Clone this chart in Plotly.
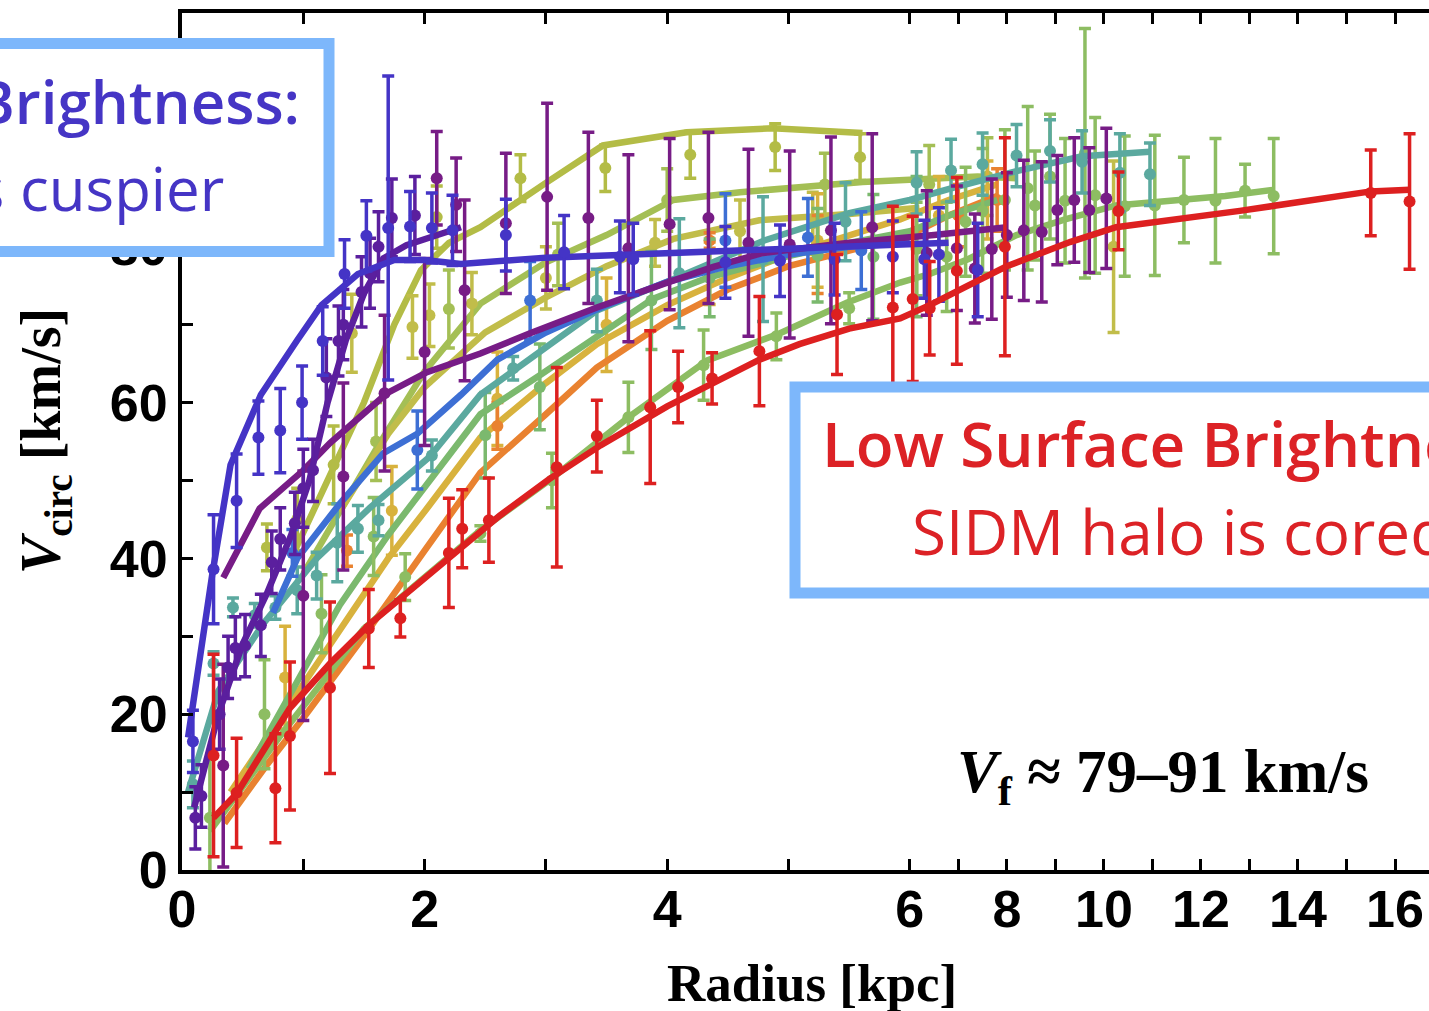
import plotly.graph_objects as go

# ---------------- data (radius in kpc, V_circ in km/s) ----------------
# blue-violet galaxy
BV_line_r = [0.05, 0.25, 0.4, 0.65, 0.95, 1.15, 1.45, 1.75, 2.0, 2.3, 3.0, 4.0, 5.0, 6.0, 6.8]
BV_line_v = [17, 38, 52, 61, 68, 72.5, 76.5, 78.3, 78.3, 77.8, 78.6, 79.2, 79.8, 80.3, 80.5]
BV_pts_r = [0.09, 0.26, 0.45, 0.63, 0.81, 0.99, 1.16, 1.34, 1.52, 1.70, 1.88, 2.06, 2.23, 2.67, 3.15, 3.61, 3.72, 4.48, 4.93, 5.38, 5.86, 6.3, 6.6, 7.4]
BV_pts_v = [16.5, 38.6, 47.4, 55.5, 56.4, 60.0, 67.9, 76.5, 81.4, 82.4, 82.6, 82.4, 82.1, 81.5, 79.3, 78.7, 78.4, 78.0, 78.2, 78.4, 78.7, 78.4, 79, 77]
BV_pts_e = [4, 7, 6, 4.7, 5.4, 4.7, 4.4, 4.4, 4.5, 19.5, 4.5, 4.5, 4.5, 4.6, 4.7, 4.6, 4.6, 4.6, 4.6, 4.6, 4.6, 5, 6, 6]

# dark violet galaxy
VI_line_r = [0.1, 0.3, 0.5, 0.7, 0.9, 1.05, 1.2, 1.35, 1.5, 1.66, 1.85, 2.1, 2.3]
VI_line_v = [8, 20, 29, 35.5, 43, 50, 60, 68, 74, 78.5, 80.2, 81.5, 82.5]
VI_pts_r = [0.11, 0.16, 0.31, 0.38, 0.44, 0.52, 0.65, 0.74, 0.81, 0.93, 1.0, 1.08, 1.19, 1.29, 1.33, 1.48, 1.55, 1.62, 1.73, 1.92]
VI_pts_v = [6.7, 9.5, 20, 26, 28.5, 28.8, 31.4, 39.5, 42.5, 44.5, 49, 51.3, 63.2, 67.9, 70, 74.2, 76.6, 80, 83.7, 84]
VI_pts_e = [4, 4, 4.5, 4, 4, 4, 4, 4, 4, 4, 5, 4, 5, 4.5, 4.5, 4.5, 4.5, 4.5, 5, 5]

# purple galaxy
PU_line_r = [0.34, 0.64, 0.86, 1.0, 1.22, 1.69, 2.02, 2.46, 2.87, 3.42, 4.0, 4.38, 4.79, 5.5, 6.5, 8.0]
PU_line_v = [37.5, 46.4, 49.4, 51.3, 54.8, 61.2, 63.9, 66.3, 68.9, 72.2, 75.4, 77.4, 79.2, 80.5, 81.5, 82.5]
PU_pts_r = [0.34, 1.0, 1.33, 1.67, 2.0, 2.10, 2.26, 2.33, 2.67, 3.01, 3.35, 3.68, 4.02, 4.34, 4.67, 5.01, 5.35, 5.69, 6.35, 6.97, 7.34, 7.69, 8.0, 8.35, 8.72, 9.04, 9.39, 9.7, 10.05]
PU_pts_v = [13.4, 35.2, 50.5, 61.2, 66.5, 88.8, 85.4, 74.4, 83, 86.4, 83.7, 79.8, 82.9, 83.7, 80.5, 80.3, 82.1, 82.5, 79.2, 79.8, 77.2, 79.7, 81.5, 82.1, 81.9, 84.7, 86, 84.7, 86.2]
PU_pts_e = [13, 16, 12, 10, 12, 6, 6, 11.6, 9, 12, 11, 12, 11, 11, 12, 12, 12, 12, 8, 8, 7, 9, 8, 9, 9, 7, 8, 8, 9]

# blue galaxy
BL_line_r = [0.75, 0.95, 1.3, 1.66, 1.94, 2.3, 2.6, 3.0, 3.5, 4.0, 4.5, 5.0, 5.5, 6.0]
BL_line_v = [33, 40, 47, 53.5, 56, 61, 65.5, 69, 72.5, 75.5, 77.5, 79, 80, 80.5]
BL_pts_r = [0.91, 1.94, 2.87, 4.48, 5.16, 5.6]
BL_pts_v = [40.7, 53.9, 73.1, 80.8, 81.2, 79.5]
BL_pts_e = [3, 5, 5, 6, 5, 5]

# teal galaxy
TE_line_r = [0.05, 0.3, 0.67, 1.11, 1.55, 2.04, 2.46, 3.0, 3.42, 4.0, 4.8, 5.5, 6.0, 6.85, 8.2, 9.55, 10.95]
TE_line_v = [10, 23, 31.6, 40, 46.5, 53, 61, 67, 71.8, 75.5, 80.8, 84.3, 86, 87.5, 89.7, 91.6, 92.2]
TE_pts_r = [0.09, 0.26, 0.42, 0.60, 0.77, 0.95, 1.11, 1.28, 1.45, 1.62, 2.06, 2.73, 3.42, 4.1, 4.79, 5.47, 6.14, 6.85, 7.5, 8.2, 8.89, 9.55, 10.33, 10.95]
TE_pts_v = [11, 26.5, 33.7, 32.7, 33.7, 35.9, 37.8, 42, 43.8, 44.9, 53.2, 64.4, 73.1, 76.6, 78.4, 83.2, 88.2, 89.8, 90.6, 91.7, 92.3, 90.9, 89.5, 89.3]
TE_pts_e = [3, 1.5, 1.2, 1.5, 1.5, 3, 3, 5, 3, 2, 2, 1.5, 4, 7, 8, 5, 4, 4, 4, 4, 4, 4, 5, 4]

# light green galaxy (extends to 13.5 kpc)
LG_line_r = [0.23, 0.8, 1.5, 2.46, 3.06, 3.68, 4.33, 4.93, 5.48, 5.92, 6.41, 7.2, 8.2, 9.2, 10.25, 11.5, 12.5, 13.5]
LG_line_v = [5, 17, 31, 43.6, 50.4, 58.1, 65.4, 68.9, 72.8, 75.4, 76.5, 78.4, 81.5, 83.5, 85.3, 86, 86.5, 87.3]
LG_pts_r = [0.23, 0.68, 1.15, 1.58, 1.84, 2.46, 3.05, 3.68, 4.3, 4.9, 5.5, 6.14, 6.76, 7.15, 7.5, 7.96, 8.43, 8.58, 8.89, 9.2, 9.61, 9.82, 10.43, 11.05, 11.65, 12.3, 12.91, 13.5]
LG_pts_v = [6.7, 20, 32.9, 42.8, 37.6, 43.2, 50, 58.1, 64.8, 68.5, 72.1, 79.7, 78.7, 83.2, 84.6, 86, 87.5, 85.3, 89, 85.9, 92, 86.6, 85.2, 85.3, 86, 85.9, 87.2, 86.5]
LG_pts_e = [7.5, 7, 5, 5, 3, 1, 3.5, 4.5, 4.5, 3, 2, 6, 7, 7, 8, 9, 10.5, 7, 8, 8, 16, 10, 9, 9, 5.5, 8, 3.4, 7.4]

# green galaxy
UG_line_r = [0.55, 0.9, 1.3, 1.7, 2.1, 2.46, 2.95, 3.42, 3.88, 4.33, 5.0, 5.5, 6.0, 6.8, 7.8]
UG_line_v = [13, 23, 34, 43, 51, 58.5, 63.5, 68.5, 73.3, 76, 78.8, 80.5, 82, 84, 86]
UG_pts_r = [2.5, 2.95, 3.87, 4.35, 5.24, 5.7, 6.14]
UG_pts_v = [55.8, 62, 73.1, 76, 78.9, 78.7, 80]
UG_pts_e = [5.5, 5.5, 6.3, 5, 6, 8, 9]

# olive galaxy (highest curve)
YG1_line_r = [0.9, 1.2, 1.5, 1.75, 1.97, 2.2, 2.46, 3.0, 3.47, 4.16, 4.87, 5.61]
YG1_line_v = [40, 50, 60, 70, 77, 80.5, 82.5, 88.2, 93, 94.7, 95.2, 94.6]
YG1_pts_r = [0.7, 0.95, 1.25, 2.1, 2.79, 3.49, 4.19, 4.89, 5.59]
YG1_pts_v = [41.4, 45, 52, 83.8, 88.8, 90.1, 91.8, 92.8, 91.5]
YG1_pts_e = [3, 4, 5, 4, 3, 3, 3, 3, 3]

# yellow-green galaxy
YG2_line_r = [1.0, 1.3, 1.6, 2.0, 2.46, 3.0, 3.5, 4.05, 4.6, 5.61, 6.5, 7.4, 8.2]
YG2_line_v = [38, 46, 54, 64, 72.7, 78, 81.5, 86, 87, 88.3, 88.7, 89, 88.8]
YG2_pts_r = [1.6, 2.2, 3.1, 4.0, 5.3, 6.4, 7.6]
YG2_pts_v = [55, 72, 79, 86, 88, 88, 89]
YG2_pts_e = [5, 5, 4, 4, 4, 5, 5]

# light olive galaxy
YG3_line_r = [1.3, 1.7, 2.0, 2.5, 3.0, 3.5, 4.05, 4.76, 5.5, 6.2]
YG3_line_v = [46, 56, 62, 69, 73.5, 77.5, 81, 83.4, 84.2, 85]
YG3_pts_r = [1.4, 1.9, 2.04, 2.39, 3.0, 3.9, 4.6, 5.2, 10.2]
YG3_pts_v = [68.9, 69.7, 71.2, 72.7, 76, 80.5, 82, 83, 80]
YG3_pts_e = [5, 4, 4, 4, 4, 3, 4, 4, 11]

# gold galaxy
GO_line_r = [0.4, 0.7, 1.0, 1.3, 1.7, 2.0, 2.46, 3.0, 3.42, 4.0, 4.5, 5.0, 5.92, 6.8, 7.8]
GO_line_v = [10, 17, 24, 31, 40, 46, 55.5, 62.5, 67.5, 72.5, 76, 79, 83.5, 86, 88]
GO_pts_r = [0.85, 1.73, 2.6, 3.5, 4.35, 5.24, 6.6, 7.6]
GO_pts_v = [24.7, 46.1, 60.5, 70, 76.6, 80.8, 84, 86]
GO_pts_e = [6.6, 5.7, 6, 6, 4, 6, 5, 5]

# orange galaxy
OR_line_r = [0.35, 0.7, 1.0, 1.5, 2.0, 2.46, 3.0, 3.42, 4.0, 4.5, 5.0, 5.5, 6.0, 6.8, 7.8]
OR_line_v = [6, 13.5, 19.5, 30, 41, 51, 58.5, 64.5, 70.5, 74.5, 77.5, 79.5, 81.5, 84, 86.5]
OR_pts_r = [1.36, 2.6, 4.35, 5.24, 7.0, 7.8]
OR_pts_v = [41, 57, 80.8, 79, 84, 86]
OR_pts_e = [2, 3, 1, 5, 4, 4]

# red galaxy
RE_line_r = [0.26, 0.45, 0.89, 1.22, 1.55, 2.21, 2.62, 3.03, 3.45, 4.0, 4.37, 4.76, 5.09, 5.5, 5.92, 6.41, 7.2, 8.0, 9.3, 10.25, 12.8, 15.5, 16.3]
RE_line_v = [6.7, 9.8, 20.8, 26.5, 31.6, 40.1, 45.5, 50.2, 54.5, 59.5, 62.5, 65.5, 67.5, 69.5, 70.8, 72.5, 75, 77.5, 80.6, 82.5, 84.6, 87.1, 87.3]
RE_pts_r = [0.26, 0.45, 0.77, 0.89, 1.22, 1.54, 1.8, 2.2, 2.31, 2.53, 3.09, 3.42, 3.86, 4.09, 4.37, 4.76, 5.40, 5.86, 6.06, 6.41, 6.97, 7.96, 10.3, 15.5, 16.3]
RE_pts_v = [14.7, 9.9, 10.5, 17.2, 23.4, 31, 32.3, 40.7, 43.8, 44.9, 51.7, 55.7, 59.4, 62, 63.1, 66.6, 71.3, 72.2, 73.3, 72.1, 76.9, 80, 84.6, 86.9, 85.8]
RE_pts_e = [13, 7, 7, 9.5, 11, 5, 2.4, 7, 5, 5.4, 12.8, 4.6, 9.8, 4.6, 3.3, 7, 7.7, 13, 10.6, 6, 12, 14, 5, 5.5, 8.7]

# axis ticks (kpc / km/s)
X_MAJOR = [0, 2, 4, 6, 8, 10, 12, 14, 16]
X_MINOR = [1, 3, 5, 7, 9, 11, 13, 15]
Y_MAJOR = [0, 20, 40, 60, 80, 100]
Y_MINOR = [10, 30, 50, 70, 90, 110]

BREAK = 6.0     # axis is linear to 6 kpc, compressed beyond
SQUEEZE = 0.4


def warp(rs):
    return [r if r <= BREAK else BREAK + SQUEEZE * (r - BREAK) for r in rs]


series = [
    (YG1_line_r, YG1_line_v, YG1_pts_r, YG1_pts_v, YG1_pts_e, "#b3bc46"),
    (YG2_line_r, YG2_line_v, YG2_pts_r, YG2_pts_v, YG2_pts_e, "#a4bf55"),
    (YG3_line_r, YG3_line_v, YG3_pts_r, YG3_pts_v, YG3_pts_e, "#c1bd4a"),
    (GO_line_r, GO_line_v, GO_pts_r, GO_pts_v, GO_pts_e, "#d8b23d"),
    (OR_line_r, OR_line_v, OR_pts_r, OR_pts_v, OR_pts_e, "#e98230"),
    (UG_line_r, UG_line_v, UG_pts_r, UG_pts_v, UG_pts_e, "#7bb96e"),
    (LG_line_r, LG_line_v, LG_pts_r, LG_pts_v, LG_pts_e, "#8dbd62"),
    (TE_line_r, TE_line_v, TE_pts_r, TE_pts_v, TE_pts_e, "#5ba99f"),
    (BL_line_r, BL_line_v, BL_pts_r, BL_pts_v, BL_pts_e, "#3d6fd4"),
    (PU_line_r, PU_line_v, PU_pts_r, PU_pts_v, PU_pts_e, "#771c86"),
    (VI_line_r, VI_line_v, VI_pts_r, VI_pts_v, VI_pts_e, "#5b1f9e"),
    (BV_line_r, BV_line_v, BV_pts_r, BV_pts_v, BV_pts_e, "#4434c6"),
    (RE_line_r, RE_line_v, RE_pts_r, RE_pts_v, RE_pts_e, "#dd2020"),
]

fig = go.Figure()
for lr, lv, pr, pv, pe, col in series:
    fig.add_trace(go.Scatter(x=warp(lr), y=lv, mode="lines",
                             line=dict(color=col, width=6.5), hoverinfo="skip"))
    fig.add_trace(go.Scatter(x=warp(pr), y=pv, mode="markers",
                             marker=dict(color=col, size=12, line=dict(width=0)),
                             error_y=dict(type="data", array=pe, visible=True,
                                          color=col, thickness=3.5, width=6)))

W, H = 1429, 1011
ML, MR, MT, MB = 182, 0, 13, 141
pw = W - ML - MR
ph = H - MT - MB


def px_x(p):
    return (p - ML) / pw


def px_y(p):
    return (H - MB - p) / ph


xmax = pw / 121.3
axis_common = dict(showline=True, linecolor="black", linewidth=4, ticks="inside",
                   ticklen=11, tickwidth=3, tickcolor="black", showgrid=False,
                   zeroline=False,
                   tickfont=dict(family="Liberation Sans, Arial", size=52, color="black", weight="bold"))

fig.update_layout(
    width=W, height=H, margin=dict(l=ML, r=MR, t=MT, b=MB),
    paper_bgcolor="white", plot_bgcolor="white", showlegend=False,
    xaxis=dict(range=[0, xmax], tickmode="array", tickvals=warp(X_MAJOR),
               ticktext=[str(v) for v in X_MAJOR], mirror="ticks", ticklabelstandoff=-9,
               minor=dict(tickmode="array", tickvals=warp(X_MINOR), ticks="inside",
                          ticklen=11, tickwidth=3, tickcolor="black"),
               **axis_common),
    yaxis=dict(range=[0, 110], tickmode="array", tickvals=Y_MAJOR,
               ticktext=[str(v) for v in Y_MAJOR], mirror=False,
               minor=dict(tickmode="array", tickvals=Y_MINOR, ticks="inside",
                          ticklen=11, tickwidth=3, tickcolor="black"),
               **axis_common),
)

BOX = "#7db7fb"
fig.add_shape(type="rect", xref="paper", yref="paper", layer="above",
              x0=-0.3, x1=px_x(329), y0=px_y(251.5), y1=px_y(43.5),
              line=dict(color=BOX, width=11), fillcolor="white")
fig.add_shape(type="rect", xref="paper", yref="paper", layer="above",
              x0=px_x(795), x1=1.3, y0=px_y(593), y1=px_y(387),
              line=dict(color=BOX, width=11), fillcolor="white")

BOXFONT = "Open Sans, Noto Sans, sans-serif"
ann = [
    dict(text="High Surface Brightness:", x=px_x(302), y=px_y(101),
         xanchor="right", yanchor="middle",
         font=dict(family=BOXFONT, size=60, color="#4535c5", weight=600)),
    dict(text="SIDM halo is cuspier", x=px_x(226), y=px_y(188),
         xanchor="right", yanchor="middle",
         font=dict(family=BOXFONT, size=60, color="#4535c5", weight=400)),
    dict(text="Low Surface Brightness:", x=px_x(820), y=px_y(443),
         xanchor="left", yanchor="middle",
         font=dict(family=BOXFONT, size=62, color="#dc2226", weight=600)),
    dict(text="SIDM halo is cored", x=px_x(910), y=px_y(531),
         xanchor="left", yanchor="middle",
         font=dict(family=BOXFONT, size=62, color="#dc2226", weight=400)),
    dict(text="<b><i>V</i><sub>f</sub> ≈ 79–91 km/s</b>", x=px_x(955), y=px_y(776),
         xanchor="left", yanchor="middle",
         font=dict(family="Liberation Serif, Times New Roman, serif", size=61, color="black")),
    dict(text="<b><i>V</i><sub>circ</sub> [km/s]</b>", x=px_x(45), y=px_y(441), textangle=-90,
         xanchor="center", yanchor="middle",
         font=dict(family="Liberation Serif, Times New Roman, serif", size=56, color="black")),
    dict(text="<b>Radius [kpc]</b>", x=px_x(812), y=px_y(983),
         xanchor="center", yanchor="middle",
         font=dict(family="Liberation Serif, Times New Roman, serif", size=53, color="black")),
]
for a in ann:
    fig.add_annotation(xref="paper", yref="paper", showarrow=False, **a)

fig.write_html("out.html")
